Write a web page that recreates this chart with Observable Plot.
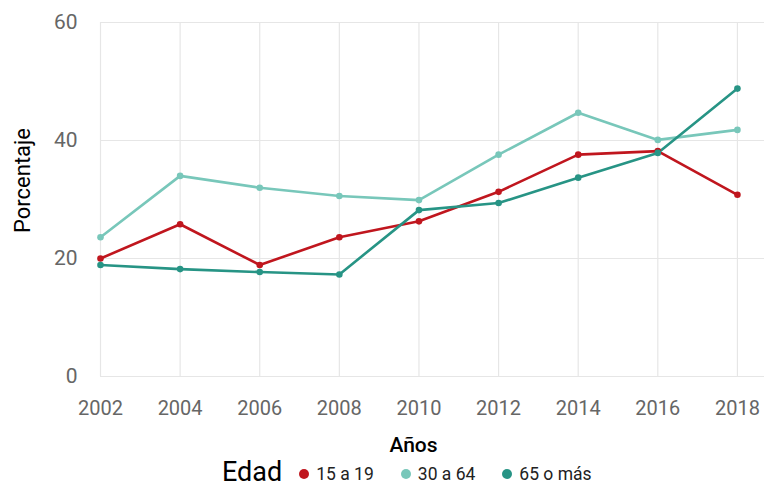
<!DOCTYPE html>
<html><head><meta charset="utf-8">
<script src="https://cdn.jsdelivr.net/npm/d3@7"></script>
<script src="https://cdn.jsdelivr.net/npm/@observablehq/plot@0.6"></script>
<style>
body{margin:0;background:#fff;font-family:Roboto,sans-serif;}
#wrap{position:relative;width:764px;height:489px;overflow:hidden;}
#legend{position:absolute;left:222px;top:461px;display:flex;align-items:center;font-family:Roboto,sans-serif;white-space:nowrap;height:22px;}
#legend .title{font-size:27px;color:#000;margin-right:17px;line-height:22px;}
#legend .item{display:flex;align-items:center;font-size:17.5px;color:#222;margin-right:27px;line-height:22px;position:relative;top:2px;}
#legend .sw{width:10px;height:10px;border-radius:50%;margin-right:7px;display:inline-block;}
</style></head>
<body><div id="wrap"><div id="chart"></div><div id="legend"></div></div>
<script>
const years = [2002, 2004, 2006, 2008, 2010, 2012, 2014, 2016, 2018];
const series = ["15 a 19", "30 a 64", "65 o más"];
const v15a19 = [20.0, 25.8, 18.9, 23.6, 26.3, 31.3, 37.6, 38.2, 30.8];
const v30a64 = [23.6, 34.0, 32.0, 30.6, 29.9, 37.6, 44.7, 40.1, 41.8];
const v65mas = [18.9, 18.2, 17.7, 17.3, 28.2, 29.4, 33.7, 37.9, 48.8];
const colors = ["#c0161e", "#78c7ba", "#279485"];
const yTicks = [0, 20, 40, 60];

const values = [v15a19, v30a64, v65mas];
const data = [];
series.forEach((s, i) => years.forEach((y, j) => data.push({year: y, value: values[i][j], edad: s})));

const chart = Plot.plot({
  width: 764, height: 458,
  marginLeft: 100, marginRight: 0, marginTop: 22, marginBottom: 82,
  style: {fontFamily: "Roboto, sans-serif", background: "#fff"},
  x: {domain: [2002, 2018.68], ticks: years},
  y: {domain: [0, 60], ticks: yTicks},
  color: {domain: series, range: colors},
  marks: [
    Plot.ruleY(yTicks, {stroke: "#e6e6e6", strokeWidth: 1.2}),
    Plot.ruleX(years, {y1: 0, y2: 60, stroke: "#e6e6e6", strokeWidth: 1.2}),
    Plot.axisX({ticks: years, tickSize: 0, tickPadding: 24, fontSize: 20, fill: "#666", tickFormat: d => String(d), label: null}),
    Plot.axisY({ticks: yTicks, tickSize: 0, tickPadding: 23, fontSize: 21, fill: "#666", label: null}),
    Plot.line(data, {x: "year", y: "value", stroke: "edad", strokeWidth: 2.6}),
    Plot.dot(data, {x: "year", y: "value", fill: "edad", r: 3.3}),
    Plot.text(["Años"], {frameAnchor: "bottom", textAnchor: "middle", lineAnchor: "middle", dx: -19, dy: 69, fontSize: 21, fontWeight: 500, fill: "#000"}),
    Plot.text(["Porcentaje"], {frameAnchor: "left", textAnchor: "middle", lineAnchor: "middle", dx: -78, dy: -19, rotate: -90, fontSize: 22, fill: "#000"})
  ]
});
document.getElementById("chart").appendChild(chart);

const leg = document.getElementById("legend");
const t = document.createElement("span"); t.className = "title"; t.textContent = "Edad"; leg.appendChild(t);
series.forEach((s, i) => {
  const it = document.createElement("span"); it.className = "item";
  const sw = document.createElement("span"); sw.className = "sw"; sw.style.background = colors[i];
  it.appendChild(sw); it.appendChild(document.createTextNode(s)); leg.appendChild(it);
});
</script></body></html>
